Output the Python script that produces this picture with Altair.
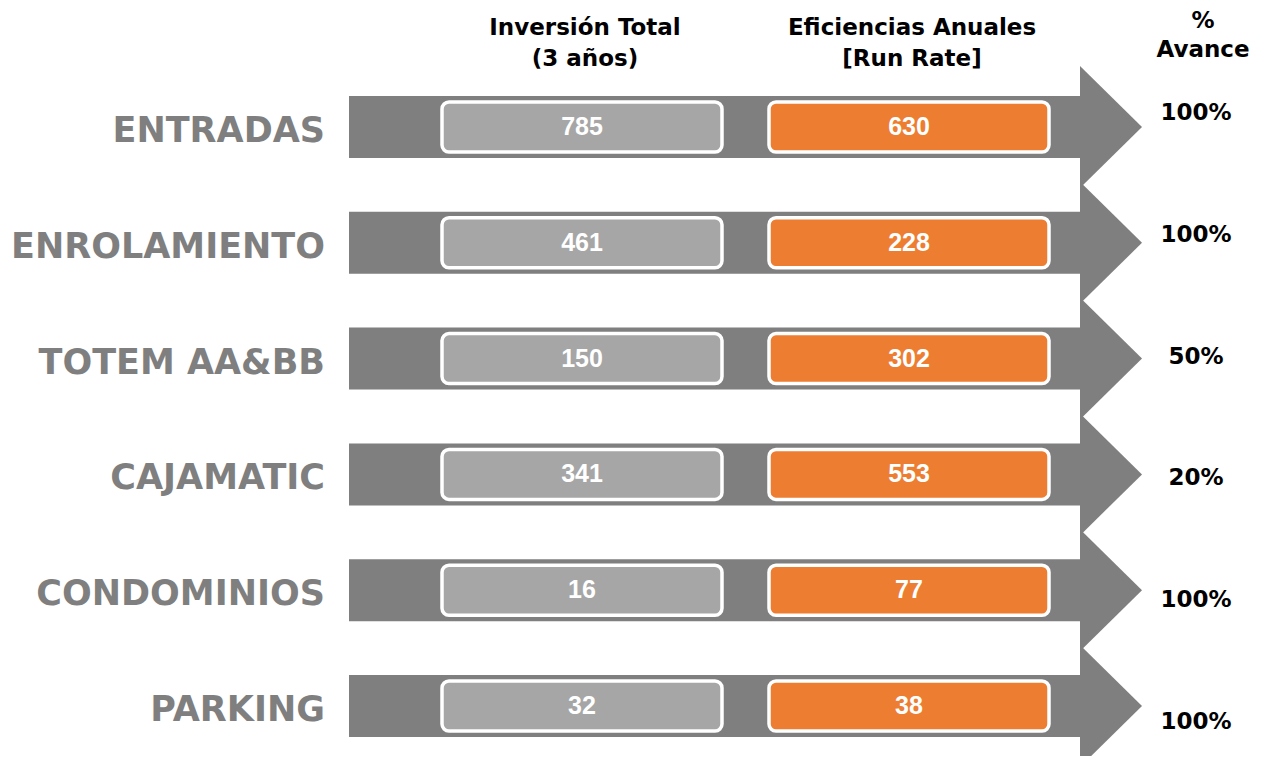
import altair as alt
import pandas as pd

# ---- data ----
categories = ["ENTRADAS", "ENROLAMIENTO", "TOTEM AA&BB", "CAJAMATIC", "CONDOMINIOS", "PARKING"]
inversion = [785, 461, 150, 341, 16, 32]
eficiencias = [630, 228, 302, 553, 77, 38]
avance = ["100%", "100%", "50%", "20%", "100%", "100%"]
header_inv = ["Inversión Total", "(3 años)"]
header_ef = ["Eficiencias Anuales", "[Run Rate]"]
header_av = ["%", "Avance"]

# ---- layout (pixel space of the page) ----
W, H = 1250, 748
ROW0, STEP = 127, 115.8        # row centres
PCT0, PCT_STEP = 113, 121.8    # % labels
SHAFT_X0, SHAFT_X1, SHAFT_H = 349, 1081, 62
HEAD_X1, HEAD_H = 1142, 122
BOX_H = 50
INV_X = (442, 722)
EF_X = (769, 1049)

rows = pd.DataFrame({
    "cat": categories,
    "inv": inversion,
    "ef": eficiencias,
    "av": avance,
})
rows["i"] = range(len(rows))
rows["c"] = ROW0 + rows["i"] * STEP
rows["top"] = rows["c"] - SHAFT_H / 2
rows["bot"] = rows["c"] + SHAFT_H / 2
rows["btop"] = rows["c"] - BOX_H / 2
rows["bbot"] = rows["c"] + BOX_H / 2
rows["sx0"] = SHAFT_X0
rows["sx1"] = SHAFT_X1
rows["ix0"], rows["ix1"] = INV_X
rows["ex0"], rows["ex1"] = EF_X
rows["ixm"] = sum(INV_X) / 2
rows["exm"] = sum(EF_X) / 2
rows["lx"] = 325
rows["ly"] = rows["c"] + 4
rows["px"] = 1196
rows["py"] = PCT0 + rows["i"] * PCT_STEP

tri = []
for i, c in zip(rows["i"], rows["c"]):
    tri.append({"i": i, "x": SHAFT_X1 - 1, "y": c - HEAD_H / 2, "y2": c + HEAD_H / 2})
    tri.append({"i": i, "x": HEAD_X1, "y": c, "y2": c})
tri = pd.DataFrame(tri)

heads = pd.DataFrame({
    "t": header_inv + header_ef + header_av,
    "x": [585, 585, 912, 912, 1203, 1203],
    "y": [28, 59, 28, 59, 21, 50],
})

xs = alt.Scale(domain=[8, 8 + W])
ys = alt.Scale(domain=[8, 8 + H], reverse=True)


def X(f):
    return alt.X(f, type="quantitative", scale=xs, axis=None)


def Y(f):
    return alt.Y(f, type="quantitative", scale=ys, axis=None)


GRAY_DARK = "#7f7f7f"

base = alt.Chart(rows)

shaft = base.mark_rect(color=GRAY_DARK).encode(
    x=X("sx0"), x2="sx1", y=Y("top"), y2="bot")

head = alt.Chart(tri).mark_area(color=GRAY_DARK, orient="vertical").encode(
    x=X("x"), y=Y("y"), y2="y2", detail="i:N")

inv_box = base.mark_rect(color="#a6a6a6", stroke="white", strokeWidth=3.5,
                         cornerRadius=7).encode(
    x=X("ix0"), x2="ix1", y=Y("btop"), y2="bbot")

ef_box = base.mark_rect(color="#ed7d31", stroke="white", strokeWidth=3.5,
                        cornerRadius=7).encode(
    x=X("ex0"), x2="ex1", y=Y("btop"), y2="bbot")

box_font = "Liberation Sans Narrow, Liberation Sans, Arial"
inv_txt = base.mark_text(color="white", font=box_font, fontWeight="bold",
                         fontSize=25, baseline="middle").encode(
    x=X("ixm"), y=Y("c"), text="inv:Q")
ef_txt = base.mark_text(color="white", font=box_font, fontWeight="bold",
                        fontSize=25, baseline="middle").encode(
    x=X("exm"), y=Y("c"), text="ef:Q")

cat_txt = base.mark_text(color=GRAY_DARK, font="DejaVu Sans", fontWeight="bold",
                         fontSize=35, align="right", baseline="middle").encode(
    x=X("lx"), y=Y("ly"), text="cat:N")

pct_txt = base.mark_text(color="black", font="DejaVu Sans", fontWeight="bold",
                         fontSize=23, baseline="middle").encode(
    x=X("px"), y=Y("py"), text="av:N")

head_txt = alt.Chart(heads).mark_text(color="black", font="DejaVu Sans",
                                      fontWeight="bold", fontSize=23,
                                      baseline="middle").encode(
    x=X("x"), y=Y("y"), text="t:N")

chart = alt.layer(shaft, head, inv_box, ef_box, inv_txt, ef_txt, cat_txt,
                  pct_txt, head_txt).properties(
    width=W, height=H, autosize=alt.AutoSizeParams(type="none"), padding=0,
    background="white",
).configure_view(stroke=None)

chart.save("out.html", embed_options={"renderer": "svg", "actions": False})
